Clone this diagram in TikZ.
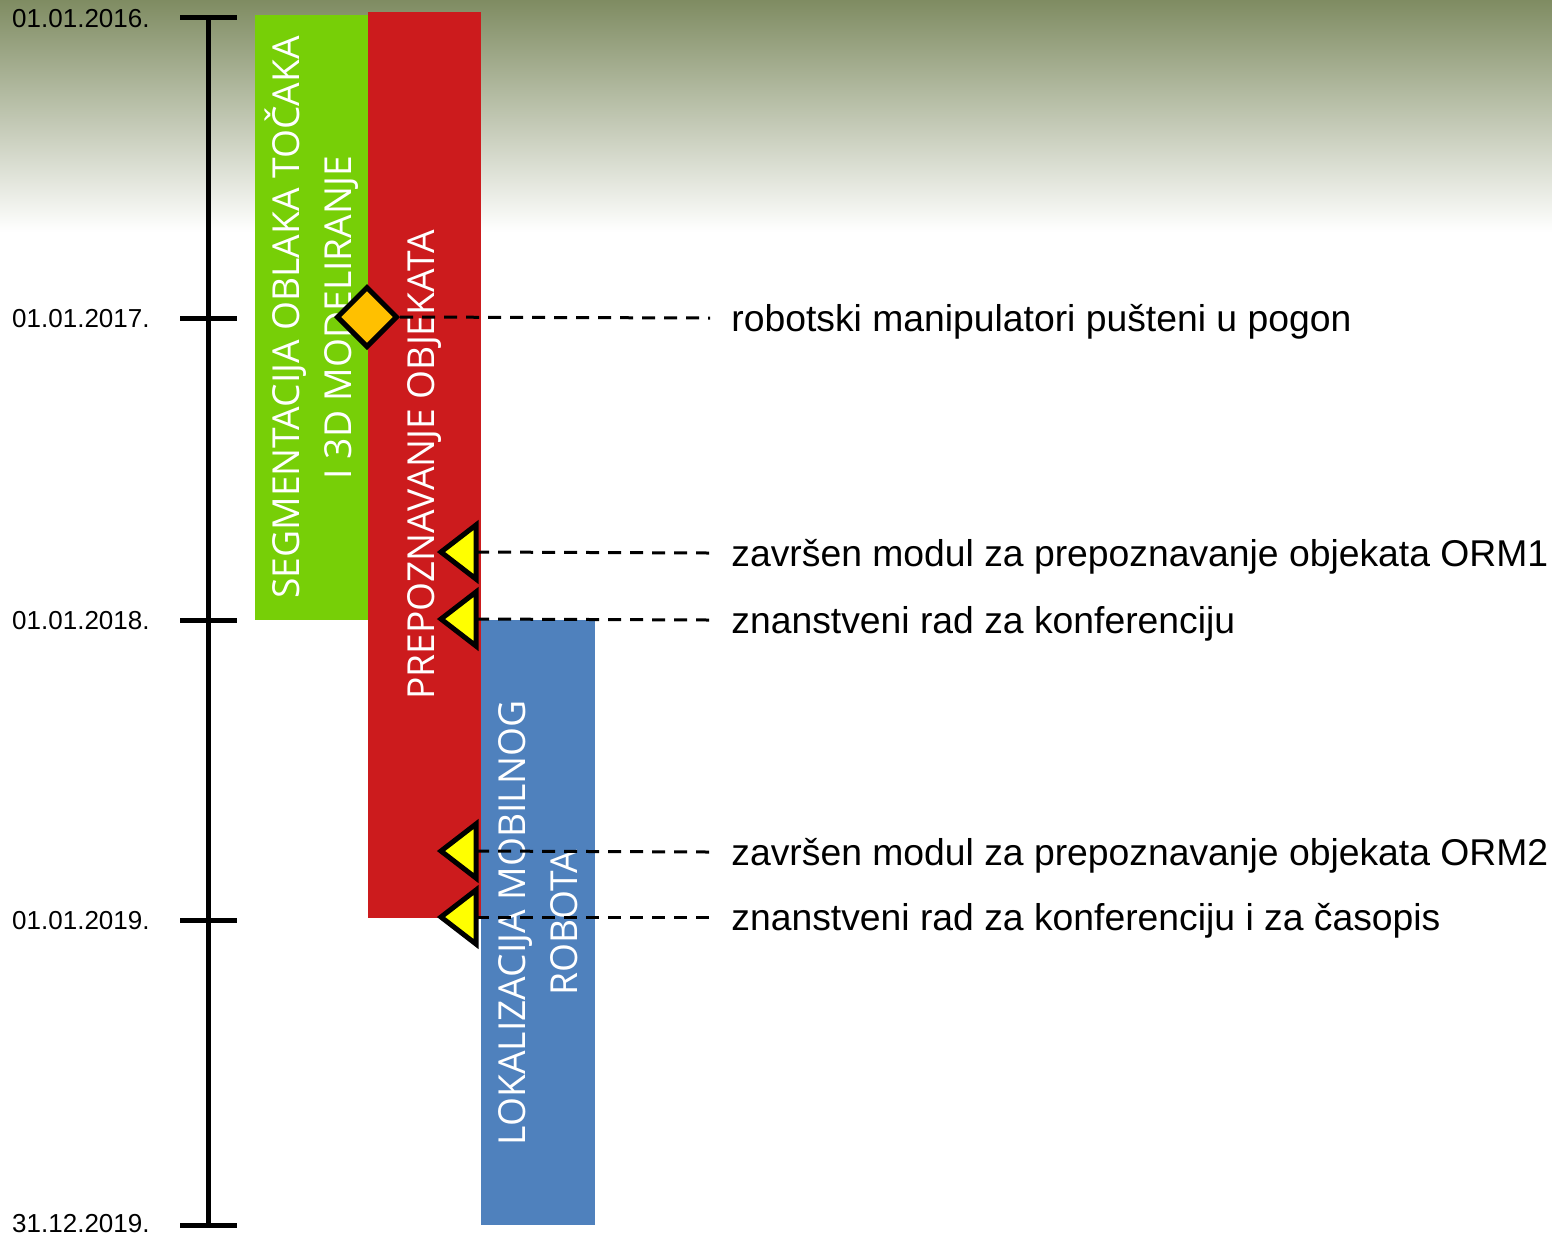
\documentclass[tikz,border=0pt]{standalone}
\usepackage{fontspec}
\setmainfont{Liberation Sans}
\newfontfamily\barfont{Open Sans}
\usetikzlibrary{shapes.geometric}
\definecolor{bggreen}{RGB}{127,140,98}
\definecolor{bargreen}{RGB}{119,207,7}
\definecolor{barred}{RGB}{204,27,29}
\definecolor{barblue}{RGB}{79,129,189}
\definecolor{msorange}{RGB}{255,192,0}
\definecolor{msyellow}{RGB}{255,255,0}
\tikzset{
  bar/.style={rotate=90, inner sep=0pt, text=white, align=center,
    font=\barfont\fontsize{18.6}{26}\selectfont},
  datelbl/.style={anchor=east, inner sep=0pt, font=\fontsize{13}{15}\selectfont},
  mslbl/.style={anchor=west, inner xsep=10.5pt, inner ysep=0pt, text depth=0pt,
    font=\fontsize{18.65}{22}\selectfont},
  axisline/.style={line width=2.5pt, black},
  leader/.style={line width=1.5pt, dash pattern=on 6.5pt off 4.5pt},
  diamondms/.style={diamond, draw=black, line width=2.5pt, fill=msorange, inner sep=0pt,
    minimum width=30.5pt, minimum height=30.5pt},
  trims/.style={draw=black, line width=2.5pt, fill=msyellow, line join=miter}
}
\begin{document}
\begin{tikzpicture}[x=0.5pt, y=-0.5pt]
\useasboundingbox (0,0) rectangle (1552,1239);
\fill[white] (0,0) rectangle (1552,1239);
\shade[top color=bggreen, bottom color=white] (0,0) rectangle (1552,232);

% bars
\node[bar, fill=bargreen, minimum width=302.5pt, minimum height=56.5pt] (segm) at (311.5,317.5)
  {SEGMENTACIJA OBLAKA TOČAKA\\I 3D MODELIRANJE};
\node[bar, fill=barred, minimum width=453pt, minimum height=56.5pt] (prep) at (424.5,465)
  {PREPOZNAVANJE OBJEKATA};
\node[bar, fill=barblue, minimum width=302.5pt, minimum height=57pt] (lok) at (538,922.5)
  {LOKALIZACIJA MOBILNOG\\ROBOTA};

% axis
\coordinate (a0) at (208,17);
\coordinate (a1) at (208,318);
\coordinate (a2) at (208,620);
\coordinate (a3) at (208,920);
\coordinate (a4) at (208,1225);
\draw[axisline] (a0) -- (a4);
\foreach \c in {a0,a1,a2,a3,a4}
  \draw[axisline] ([xshift=-14pt]\c) -- ([xshift=14.5pt]\c);

\node[datelbl] (d0) at (150,19) {01.01.2016.};
\node[datelbl] (d1) at (150,319) {01.01.2017.};
\node[datelbl] (d2) at (150,621) {01.01.2018.};
\node[datelbl] (d3) at (150,921) {01.01.2019.};
\node[datelbl] (d4) at (150,1224) {31.12.2019.};

% milestone labels
\node[mslbl] (l1) at (710,318) {robotski manipulatori pušteni u pogon};
\node[mslbl] (l2) at (710,553) {završen modul za prepoznavanje objekata ORM1};
\node[mslbl] (l3) at (710,620) {znanstveni rad za konferenciju};
\node[mslbl] (l4) at (710,852) {završen modul za prepoznavanje objekata ORM2};
\node[mslbl] (l5) at (710,917) {znanstveni rad za konferenciju i za časopis};

% milestone markers
\coordinate (t1) at (476,552);
\coordinate (t2) at (476,619);
\coordinate (t3) at (476,851);
\coordinate (t4) at (476,917);
\draw[leader] (t1) -- (l2.west);
\draw[leader] (t2) -- (l3.west);
\draw[leader] (t3) -- (l4.west);
\draw[leader] (t4) -- (l5.west);
\foreach \t in {t1,t2,t3,t4}
  \draw[trims] (\t) -- ++(0,-27) -- ++(-35,27) -- ++(35,27) -- cycle;

\node[diamondms] (dm) at (367,317) {};
\draw[leader] (dm.east) -- (l1.west);
\end{tikzpicture}
\end{document}
